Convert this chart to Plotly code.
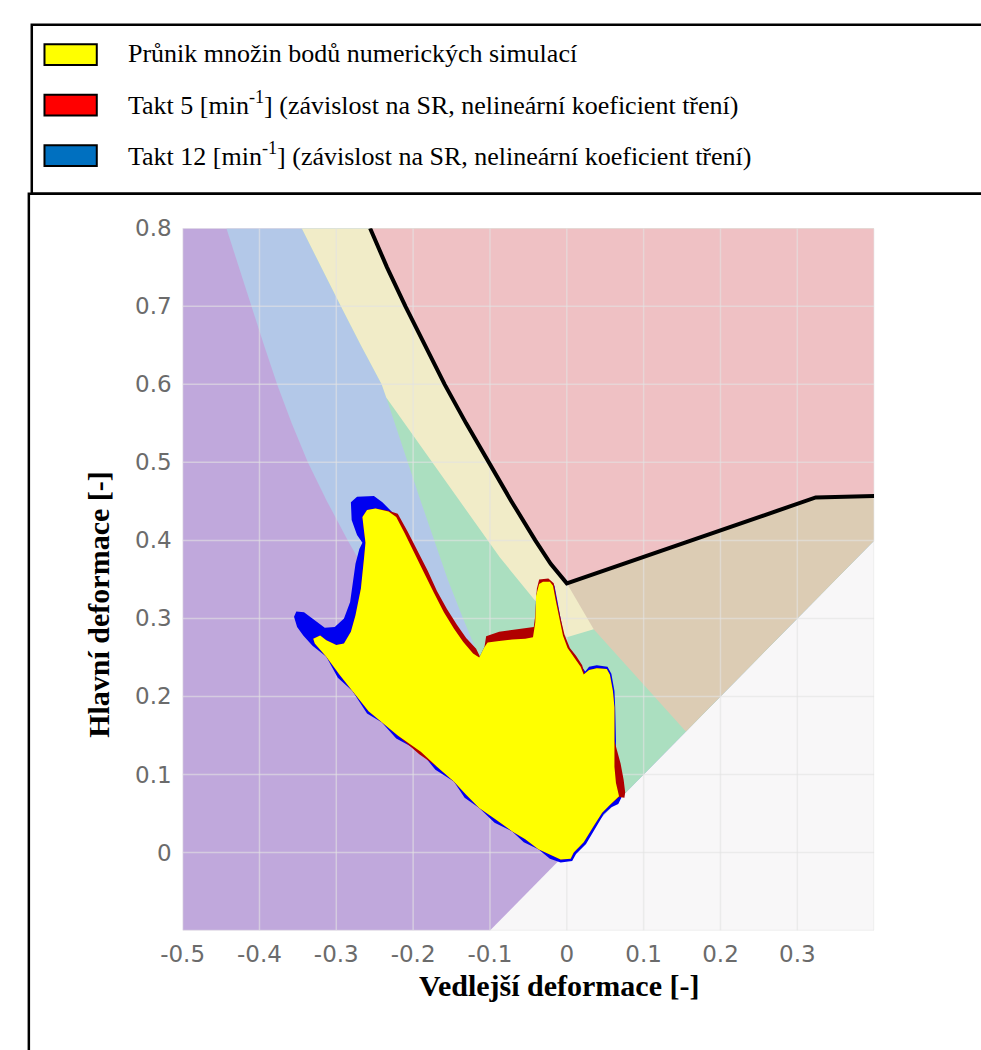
import plotly.graph_objects as go

W, H = 981, 1050

# ---- zone boundaries of the forming limit diagram (minor strain, major strain) ----
# forming limit curve
flc_x = [-0.256, -0.234, -0.210, -0.185, -0.159, -0.131, -0.102, -0.072, -0.041, -0.021, 0.000, 0.324, 0.400]
flc_y = [0.800, 0.750, 0.700, 0.650, 0.600, 0.550, 0.500, 0.450, 0.400, 0.370, 0.345, 0.455, 0.457]

# wrinkling / wrinkling tendency boundary
wrinkle_x = [-0.443, -0.427, -0.411, -0.394, -0.377, -0.358, -0.337, -0.312, -0.285, -0.256, -0.224, -0.154, -0.079, 0.000]
wrinkle_y = [0.800, 0.750, 0.700, 0.650, 0.600, 0.550, 0.500, 0.450, 0.400, 0.350, 0.300, 0.200, 0.100, 0.000]

# wrinkling tendency / safe boundary
tendency_x = [-0.345, -0.320, -0.294, -0.268, -0.241, -0.235, -0.221, -0.207, -0.190, -0.173, -0.155, -0.135, -0.114, -0.091, -0.047, 0.000]
tendency_y = [0.800, 0.750, 0.700, 0.650, 0.600, 0.583, 0.540, 0.500, 0.450, 0.400, 0.350, 0.300, 0.250, 0.200, 0.100, 0.000]

# lower edge of the crack-risk band
risk_x = [-0.235, -0.204, -0.173, -0.130, -0.087, -0.043, 0.000, 0.035]
risk_y = [0.583, 0.540, 0.497, 0.437, 0.378, 0.325, 0.276, 0.286]

# stretching zone on the biaxial side
stretch_x = [0.000, 0.324, 0.400, 0.400, 0.155, 0.035]
stretch_y = [0.345, 0.455, 0.457, 0.400, 0.155, 0.286]

# ---- point clouds of the numerical simulations (outlines) ----
takt12_x = [-0.355, -0.352, -0.342, -0.329, -0.315, -0.302, -0.290, -0.282, -0.278, -0.275, -0.270, -0.266,
            -0.273, -0.280, -0.281, -0.273, -0.251, -0.240, -0.230, -0.222,
            -0.211, -0.198, -0.186, -0.173, -0.160, -0.147, -0.135, -0.122, -0.114, -0.108, -0.103, -0.088,
            -0.071, -0.054, -0.044, -0.041, -0.040, -0.036, -0.031, -0.022,
            -0.016, -0.012, -0.008, -0.004, 0.002, 0.010, 0.019, 0.024, 0.029, 0.039, 0.053, 0.058, 0.062,
            0.063, 0.064, 0.063, 0.065, 0.071, 0.067, 0.058, 0.048, 0.038, 0.025, 0.012, 0.007, -0.008,
            -0.022, -0.037, -0.056, -0.071, -0.094, -0.114, -0.133, -0.147, -0.171, -0.190, -0.222, -0.241,
            -0.260, -0.279, -0.298, -0.313, -0.331, -0.343, -0.351]
takt12_y = [0.302, 0.309, 0.308, 0.298, 0.288, 0.289, 0.300, 0.321, 0.346, 0.370, 0.389, 0.397,
            0.407, 0.426, 0.449, 0.456, 0.457, 0.449, 0.439, 0.431,
            0.409, 0.384, 0.359, 0.333, 0.308, 0.287, 0.270, 0.255, 0.250, 0.262, 0.269, 0.271,
            0.273, 0.274, 0.276, 0.295, 0.329, 0.344, 0.347, 0.347,
            0.342, 0.321, 0.300, 0.278, 0.262, 0.251, 0.240, 0.232, 0.238, 0.240, 0.238, 0.229, 0.207,
            0.186, 0.143, 0.110, 0.089, 0.070, 0.062, 0.058, 0.049, 0.032, 0.011, -0.002, -0.011, -0.013,
            -0.008, 0.004, 0.013, 0.027, 0.038, 0.057, 0.070, 0.091, 0.106, 0.129, 0.146, 0.167,
            0.178, 0.207, 0.224, 0.251, 0.265, 0.278, 0.289]

takt5_x = [-0.232, -0.220, -0.207, -0.194, -0.181, -0.169, -0.156, -0.143, -0.131, -0.118, -0.112, -0.108,
           -0.105, -0.088, -0.071, -0.054, -0.043, -0.041, -0.039, -0.036, -0.024, -0.017, -0.013, -0.008,
           -0.003, 0.004, 0.012, 0.020, 0.023, 0.029, 0.039, 0.052, 0.056, 0.060, 0.062, 0.062,
           0.064, 0.070, 0.074, 0.076, 0.075, 0.068,
           0.056, 0.046, 0.035, 0.022, 0.009, 0.005, -0.008, -0.020, -0.037, -0.054, -0.071, -0.092,
           -0.114, -0.131, -0.147, -0.169, -0.192, -0.220, -0.241, -0.258, -0.279, -0.296, -0.313, -0.328,
           -0.330, -0.321, -0.313, -0.300, -0.290, -0.281, -0.275, -0.268, -0.264, -0.262, -0.264, -0.266,
           -0.260, -0.249]
takt5_y = [0.438, 0.434, 0.411, 0.386, 0.361, 0.335, 0.312, 0.292, 0.275, 0.261, 0.249, 0.258,
           0.277, 0.283, 0.285, 0.287, 0.289, 0.304, 0.338, 0.350, 0.351, 0.345, 0.322, 0.300,
           0.279, 0.262, 0.252, 0.240, 0.229, 0.234, 0.236, 0.235, 0.228, 0.207, 0.186, 0.143,
           0.135, 0.114, 0.093, 0.077, 0.070, 0.071,
           0.061, 0.051, 0.034, 0.013, 0.000, -0.008, -0.009, -0.004, 0.004, 0.017, 0.027, 0.042,
           0.057, 0.074, 0.091, 0.110, 0.126, 0.150, 0.167, 0.181, 0.207, 0.228, 0.251, 0.268,
           0.274, 0.278, 0.272, 0.266, 0.268, 0.283, 0.304, 0.338, 0.376, 0.397, 0.413, 0.430,
           0.439, 0.441]

common_x = [-0.330, -0.321, -0.313, -0.300, -0.290, -0.281, -0.275, -0.268, -0.264, -0.262, -0.264, -0.266,
            -0.260, -0.249, -0.232, -0.222, -0.211, -0.198, -0.186, -0.173, -0.160, -0.147, -0.135, -0.122,
            -0.114, -0.108, -0.103, -0.088, -0.071, -0.054, -0.044, -0.041, -0.040, -0.036, -0.031, -0.022,
            -0.018, -0.014, -0.010, -0.005, 0.001, 0.009, 0.018, 0.022, 0.029, 0.039, 0.052, 0.056,
            0.060, 0.062, 0.062, 0.062, 0.064, 0.068, 0.056, 0.046, 0.035, 0.022, 0.009, 0.005,
            -0.008, -0.020, -0.037, -0.054, -0.071, -0.092, -0.114, -0.131, -0.147, -0.169, -0.190, -0.220,
            -0.241, -0.258, -0.279, -0.296, -0.313, -0.328]
common_y = [0.274, 0.278, 0.272, 0.266, 0.268, 0.283, 0.304, 0.338, 0.376, 0.397, 0.413, 0.430,
            0.439, 0.441, 0.437, 0.430, 0.409, 0.384, 0.359, 0.333, 0.308, 0.287, 0.270, 0.255,
            0.250, 0.262, 0.269, 0.271, 0.273, 0.274, 0.276, 0.295, 0.329, 0.344, 0.347, 0.347,
            0.342, 0.321, 0.300, 0.278, 0.262, 0.251, 0.238, 0.228, 0.234, 0.236, 0.235, 0.228,
            0.207, 0.186, 0.143, 0.110, 0.089, 0.072, 0.061, 0.051, 0.034, 0.013, 0.000, -0.008,
            -0.009, -0.004, 0.004, 0.017, 0.027, 0.042, 0.057, 0.074, 0.091, 0.110, 0.129, 0.150,
            0.167, 0.181, 0.207, 0.228, 0.251, 0.268]

# ---- axes ----
x_min, x_max = -0.5, 0.4
y_min, y_max = -0.1, 0.8
x_ticks = [-0.5, -0.4, -0.3, -0.2, -0.1, 0.0, 0.1, 0.2, 0.3]
y_ticks = [0.0, 0.1, 0.2, 0.3, 0.4, 0.5, 0.6, 0.7, 0.8]
x_grid = x_ticks + [x_max]
y_grid = [y_min] + y_ticks

legend_labels = [
    "Průnik množin bodů numerických simulací",
    "Takt 5 [min<sup>-1</sup>] (závislost na SR, nelineární koeficient tření)",
    "Takt 12 [min<sup>-1</sup>] (závislost na SR, nelineární koeficient tření)",
]
legend_colors = ["#FFFF00", "#FF0000", "#0070C0"]

C_PURPLE = "#C0A8DC"
C_BLUE = "#B3C8E8"
C_GREEN = "#ABDFC0"
C_CREAM = "#F1ECC8"
C_PINK = "#EFC1C4"
C_TAN = "#DCCCB4"
C_BG = "#F8F7F8"


def area(xs, ys, color):
    return go.Scatter(x=xs, y=ys, mode="lines", fill="toself", fillcolor=color,
                      line=dict(width=0, color=color), hoverinfo="skip", showlegend=False)


fig = go.Figure()

# wrinkles: everything above the line major = minor
fig.add_trace(area([x_min, x_max, x_max, y_min, x_min],
                   [y_max, y_max, x_max, y_min, y_min], C_PURPLE))
# wrinkling tendency: right of the wrinkle boundary
fig.add_trace(area(wrinkle_x + [x_max, x_max], wrinkle_y + [x_max, y_max], C_BLUE))
# safe zone: right of the tendency boundary
fig.add_trace(area(tendency_x + [x_max, x_max], tendency_y + [x_max, y_max], C_GREEN))
# risk of cracks band
k = tendency_x.index(risk_x[0])
fig.add_trace(area(tendency_x[:k] + risk_x + [x_max, x_max],
                   tendency_y[:k] + risk_y + [x_max, y_max], C_CREAM))
# cracks: above the forming limit curve
fig.add_trace(area(flc_x + [x_max], flc_y + [y_max], C_PINK))
# stretching zone
fig.add_trace(area(stretch_x, stretch_y, C_TAN))

# grid lines drawn over the zones
gx, gy = [], []
for v in x_grid:
    gx += [v, v, None]
    gy += [y_min, y_max, None]
for v in y_grid:
    gx += [x_min, x_max, None]
    gy += [v, v, None]
fig.add_trace(go.Scatter(x=gx, y=gy, mode="lines", line=dict(color="rgba(226,226,226,0.6)", width=1.5),
                         hoverinfo="skip", showlegend=False))

# forming limit curve
fig.add_trace(go.Scatter(x=flc_x, y=flc_y, mode="lines", line=dict(color="black", width=4),
                         hoverinfo="skip", showlegend=False))

# simulation clouds
fig.add_trace(area(takt12_x, takt12_y, "#0000F0"))
fig.add_trace(area(takt5_x, takt5_y, "#B00000"))
fig.add_trace(area(common_x, common_y, "#FFFF00"))

# ---- layout ----
x0p, x1p = 164.3 / W, 871.7 / W
y0p, y1p = 1 - 929 / H, 1 - 218 / H

tick_font = dict(family="DejaVu Sans", size=23, color="#6B6B6B")
fig.update_layout(
    width=W, height=H, autosize=False,
    margin=dict(l=0, r=0, t=0, b=0),
    paper_bgcolor="white", plot_bgcolor=C_BG,
    showlegend=False,
    xaxis=dict(domain=[x0p, x1p], range=[x_min, x_max], showgrid=False, zeroline=False,
               showline=False, ticks="", tickvals=x_ticks, ticktext=[f"{v:g}" for v in x_ticks],
               tickfont=tick_font, ticklabelstandoff=8, fixedrange=True),
    yaxis=dict(domain=[y0p, y1p], range=[y_min, y_max], showgrid=False, zeroline=False,
               showline=False, ticks="", tickvals=y_ticks, ticktext=[f"{v:g}" for v in y_ticks],
               tickfont=tick_font, ticklabelstandoff=10, fixedrange=True),
)

title_font = dict(family="Liberation Serif", size=30, color="black")
fig.add_annotation(text="<b>Vedlejší deformace [-]</b>", xref="paper", yref="paper",
                   x=549.5 / W, y=1 - 985 / H, xanchor="center", yanchor="middle",
                   showarrow=False, font=title_font)
fig.add_annotation(text="<b>Hlavní deformace [-]</b>", xref="paper", yref="paper",
                   x=78 / W, y=1 - 599 / H, xanchor="center", yanchor="middle",
                   textangle=-90, showarrow=False, font=title_font)

# legend block with frame
shapes = [
    dict(type="rect", xref="paper", yref="paper", x0=10 / W, x1=1.02, y0=1 - 183 / H, y1=1 - 12 / H,
         line=dict(color="black", width=2.5), fillcolor="rgba(0,0,0,0)"),
    dict(type="rect", xref="paper", yref="paper", x0=7 / W, x1=1.02, y0=-0.02, y1=1 - 183 / H,
         line=dict(color="black", width=2.5), fillcolor="rgba(0,0,0,0)"),
]
sw_top = [31.7, 82.7, 134.0]
for i, (lab, col) in enumerate(zip(legend_labels, legend_colors)):
    t = sw_top[i]
    shapes.append(dict(type="rect", xref="paper", yref="paper",
                       x0=23 / W, x1=76.5 / W, y0=1 - (t + 21) / H, y1=1 - t / H,
                       line=dict(color="black", width=2), fillcolor=col))
    fig.add_annotation(text=lab, xref="paper", yref="paper", x=106 / W, y=1 - (t + 9) / H,
                       xanchor="left", yanchor="middle", showarrow=False,
                       font=dict(family="Liberation Serif", size=26, color="black"))
fig.update_layout(shapes=shapes)

fig.write_html("out.html")
